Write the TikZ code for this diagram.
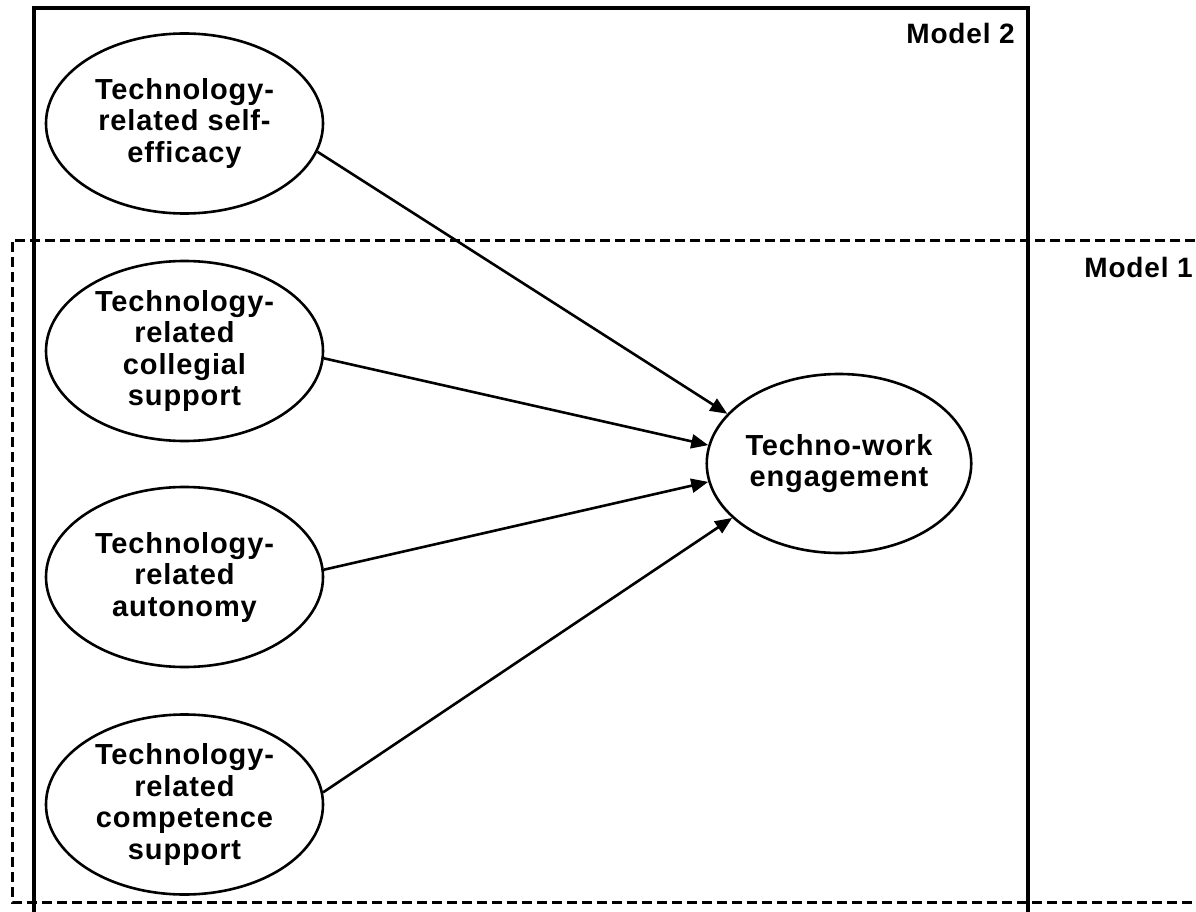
\documentclass[tikz,border=0pt]{standalone}
\usepackage{fontspec}
\setmainfont{Liberation Sans}[LetterSpace=3.0]
\usetikzlibrary{shapes.geometric,arrows.meta}
\tikzset{
  latent/.style={ellipse, draw, line width=2.6pt, minimum width=277pt, minimum height=180pt,
    inner sep=0pt, align=center, font=\bfseries\fontsize{29}{31.5}\selectfont},
  outcome/.style={latent, minimum width=252pt, minimum height=179pt},
  path arrow/.style={line width=2.6pt, -{Triangle[length=17pt,width=14pt]}},
  modellabel/.style={inner sep=0pt, font=\bfseries\fontsize{28}{31}\selectfont},
  frame solid/.style={line width=3.2pt},
  frame dashed/.style={line width=3pt, dash pattern=on 10pt off 5pt}
}
\begin{document}
\begin{tikzpicture}[x=1pt,y=-1pt]
\useasboundingbox (0,0) rectangle (1196,912);
\begin{scope}
  \clip (0,0) rectangle (1196,912);
  \draw[frame solid] (34,930) -- (34,8) -- (1028,8) -- (1028,930);
  \draw[frame dashed] (1210,240) -- (12,240) -- (12,902) -- (1210,902);
\end{scope}
\node[latent] (se) at (184.5,123.5) {Technology-\\related self-\\efficacy};
\node[latent] (cs) at (184.5,351) {Technology-\\related\\collegial\\support};
\node[latent] (au) at (184.5,577) {Technology-\\related\\autonomy};
\node[latent] (cp) at (184.5,804.5) {Technology-\\related\\competence\\support};
\node[outcome] (te) at (839,463.5) {Techno-work\\engagement};
\node[modellabel, anchor=base east] (m2) at (1015,44) {Model 2};
\node[modellabel, anchor=base east] (m1) at (1193,277) {Model 1};
\draw[path arrow] (se.-12) -- (te.156);
\draw[path arrow] (cs.-3.3) -- (te.172);
\draw[path arrow] (au.3.7) -- (te.188.5);
\draw[path arrow] (cp.5.2) -- (te.207);
\end{tikzpicture}
\end{document}
